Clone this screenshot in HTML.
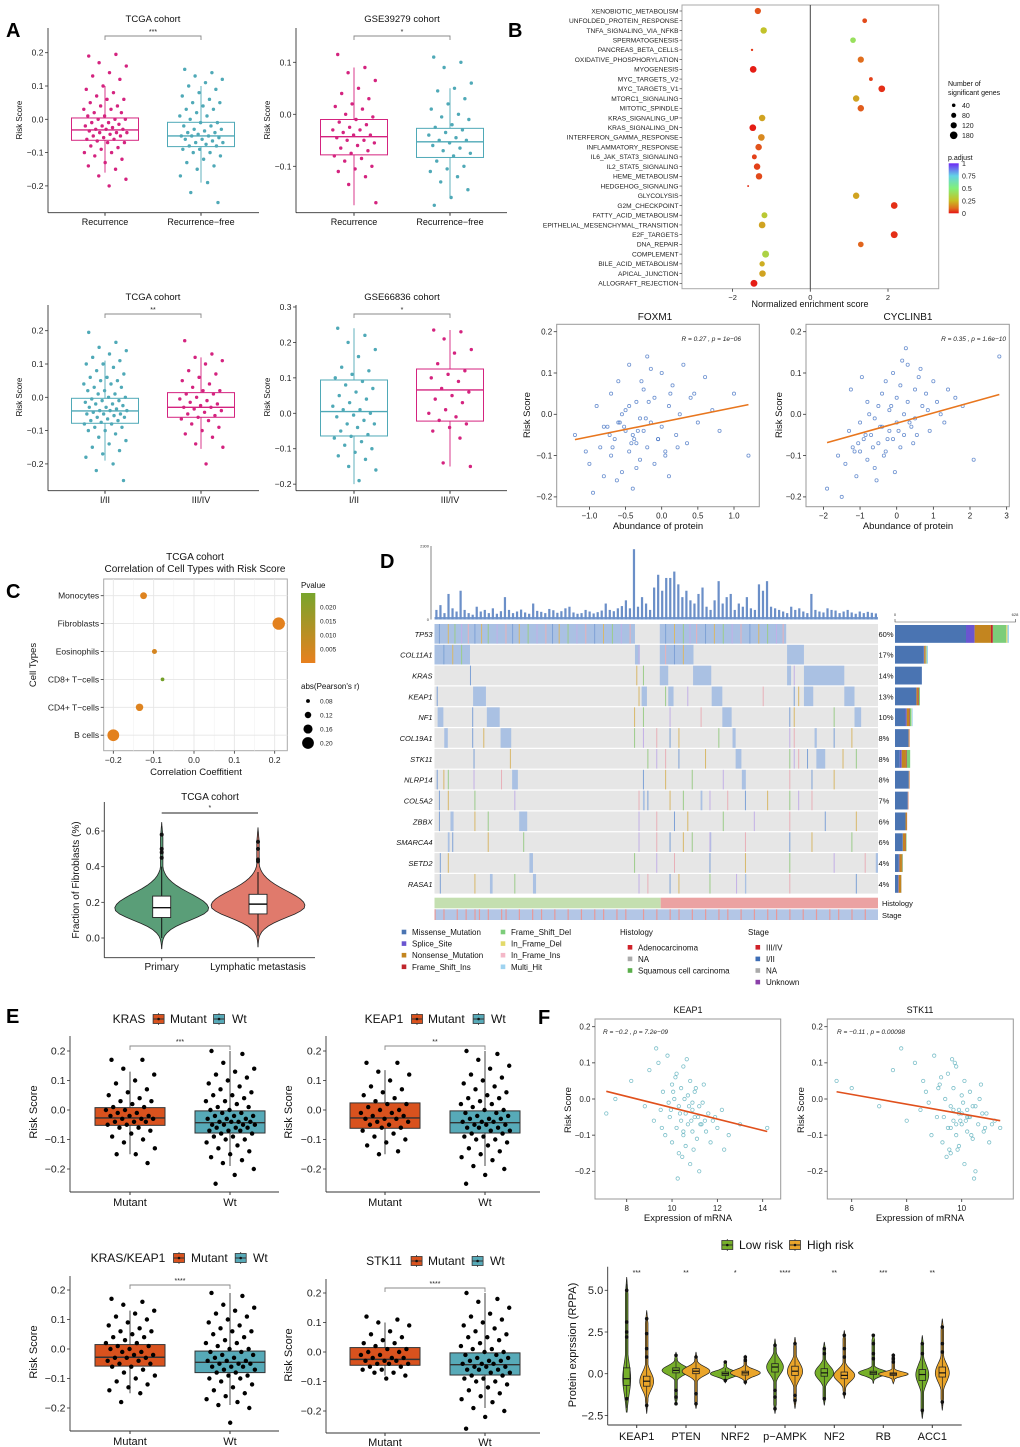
<!DOCTYPE html>
<html><head><meta charset="utf-8"><title>Multi-panel figure</title>
<style>
body{margin:0;background:#fff;}
svg{display:block;font-family:"Liberation Sans",Arial,sans-serif;}
.pl{font-size:20px;font-weight:bold;fill:#000;}
</style></head>
<body>
<svg id="fig" width="1020" height="1447" viewBox="0 0 1020 1447">
<rect width="1020" height="1447" fill="#fff"/>
<text class="pl" x="6" y="37">A</text>
<text class="pl" x="508" y="37">B</text>
<text class="pl" x="6" y="598">C</text>
<text class="pl" x="380" y="568">D</text>
<text class="pl" x="6" y="1023">E</text>
<text class="pl" x="538" y="1024">F</text>

<g font-size="9.5" text-anchor="middle" fill="#111">
<text x="153" y="22">TCGA cohort</text>
<text x="402" y="22">GSE39279 cohort</text>
<text x="153" y="300">TCGA cohort</text>
<text x="402" y="300">GSE66836 cohort</text>
</g>
<g font-size="8" text-anchor="middle" fill="#111">
<text transform="translate(22,120) rotate(-90)">Risk Score</text>
<text transform="translate(270,120) rotate(-90)">Risk Score</text>
<text transform="translate(22,397) rotate(-90)">Risk Score</text>
<text transform="translate(270,397) rotate(-90)">Risk Score</text>
</g>

<text x="810" y="307" font-size="9" text-anchor="middle" fill="#111">Normalized enrichment score</text>
<g font-size="7" fill="#111">
<text x="948" y="86">Number of</text>
<text x="948" y="95">significant genes</text>
<text x="948" y="160">p.adjust</text>
</g>
<text x="655" y="320" font-size="10" text-anchor="middle" fill="#111">FOXM1</text>
<text x="908" y="320" font-size="10" text-anchor="middle" fill="#111">CYCLINB1</text>
<text x="741" y="341" font-size="6.5" text-anchor="end" fill="#222" font-style="italic">R = 0.27 , p = 1e−06</text>
<text x="1006" y="341" font-size="6.5" text-anchor="end" fill="#222" font-style="italic">R = 0.35 , p = 1.6e−10</text>
<text x="658" y="529" font-size="9.5" text-anchor="middle" fill="#111">Abundance of protein</text>
<text x="908" y="529" font-size="9.5" text-anchor="middle" fill="#111">Abundance of protein</text>
<text transform="translate(530,415) rotate(-90)" font-size="9.5" text-anchor="middle" fill="#111">Risk Score</text>
<text transform="translate(782,415) rotate(-90)" font-size="9.5" text-anchor="middle" fill="#111">Risk Score</text>

<text x="195" y="560" font-size="10" text-anchor="middle" fill="#111">TCGA cohort</text>
<text x="195" y="572" font-size="10" text-anchor="middle" fill="#111">Correlation of Cell Types with Risk Score</text>
<text x="196" y="775" font-size="9.5" text-anchor="middle" fill="#111">Correlation Coeffitient</text>
<text transform="translate(36,665) rotate(-90)" font-size="9.5" text-anchor="middle" fill="#111">Cell Types</text>
<text x="301" y="588" font-size="8" fill="#111">Pvalue</text>
<text x="301" y="689" font-size="8" fill="#111">abs(Pearson's r)</text>
<text x="210" y="800" font-size="10" text-anchor="middle" fill="#111">TCGA cohort</text>
<text transform="translate(79,880) rotate(-90)" font-size="10" text-anchor="middle" fill="#111">Fraction of Fibroblasts (%)</text>

<g font-size="8" fill="#111">
<text x="620" y="935">Histology</text>
<text x="748" y="935">Stage</text>
<text x="882" y="906" font-size="7.5">Histology</text>
<text x="882" y="918" font-size="7.5">Stage</text>
</g>

<g font-size="12" fill="#111">
<text x="129" y="1023" text-anchor="middle">KRAS</text>
<text x="170" y="1023">Mutant</text>
<text x="232" y="1023">Wt</text>
<text x="384" y="1023" text-anchor="middle">KEAP1</text>
<text x="428" y="1023">Mutant</text>
<text x="491" y="1023">Wt</text>
<text x="128" y="1262" text-anchor="middle">KRAS/KEAP1</text>
<text x="191" y="1262">Mutant</text>
<text x="253" y="1262">Wt</text>
<text x="384" y="1265" text-anchor="middle">STK11</text>
<text x="428" y="1265">Mutant</text>
<text x="490" y="1265">Wt</text>
</g>
<g font-size="11" text-anchor="middle" fill="#111">
<text transform="translate(37,1112) rotate(-90)">Risk Score</text>
<text transform="translate(292,1112) rotate(-90)">Risk Score</text>
<text transform="translate(37,1352) rotate(-90)">Risk Score</text>
<text transform="translate(292,1355) rotate(-90)">Risk Score</text>
</g>

<text x="688" y="1013" font-size="9" text-anchor="middle" fill="#111">KEAP1</text>
<text x="920" y="1013" font-size="9" text-anchor="middle" fill="#111">STK11</text>
<text x="603" y="1034" font-size="6.5" fill="#222" font-style="italic">R = −0.2 , p = 7.2e−09</text>
<text x="837" y="1034" font-size="6.5" fill="#222" font-style="italic">R = −0.11 , p = 0.00098</text>
<text x="688" y="1221" font-size="9.5" text-anchor="middle" fill="#111">Expression of mRNA</text>
<text x="920" y="1221" font-size="9.5" text-anchor="middle" fill="#111">Expression of mRNA</text>
<text transform="translate(571,1110) rotate(-90)" font-size="9.5" text-anchor="middle" fill="#111">Risk Score</text>
<text transform="translate(804,1110) rotate(-90)" font-size="9.5" text-anchor="middle" fill="#111">Risk Score</text>
<text x="739" y="1249" font-size="12" fill="#111">Low risk</text>
<text x="807" y="1249" font-size="12" fill="#111">High risk</text>
<text transform="translate(576,1345) rotate(-90)" font-size="11" text-anchor="middle" fill="#111">Protein exprssion (RPPA)</text>
</svg>

<script>
// ================= DATA =================
const a1Rec=[0.19,0.195,0.17,0.16,0.14,0.13,0.12,0.1,0.09,0.08,0.07,0.06,0.06,0.05,0.04,0.04,0.03,0.03,0.02,0.02,0.01,0.01,0.0,0.0,0.0,-0.01,-0.01,-0.015,-0.02,-0.02,-0.025,-0.03,-0.03,-0.03,-0.035,-0.04,-0.04,-0.04,-0.045,-0.05,-0.05,-0.055,-0.06,-0.06,-0.065,-0.07,-0.07,-0.08,-0.085,-0.09,-0.1,-0.1,-0.11,-0.12,-0.13,-0.14,-0.15,-0.17,-0.18,-0.2];
const a1Free=[0.15,0.14,0.13,0.12,0.11,0.1,0.09,0.08,0.07,0.06,0.05,0.05,0.04,0.03,0.03,0.02,0.01,0.01,0.0,-0.01,-0.01,-0.02,-0.02,-0.03,-0.03,-0.035,-0.04,-0.04,-0.045,-0.05,-0.05,-0.05,-0.055,-0.06,-0.06,-0.065,-0.07,-0.07,-0.075,-0.08,-0.08,-0.09,-0.09,-0.1,-0.1,-0.11,-0.12,-0.13,-0.14,-0.15,-0.17,-0.19,-0.22,-0.25];
const a2Rec=[0.115,0.09,0.08,0.065,0.05,0.04,0.03,0.02,0.015,0.01,0.0,-0.005,-0.01,-0.015,-0.02,-0.025,-0.03,-0.03,-0.035,-0.04,-0.04,-0.045,-0.05,-0.05,-0.055,-0.06,-0.065,-0.07,-0.075,-0.08,-0.085,-0.09,-0.1,-0.105,-0.11,-0.12,-0.135,-0.17];
const a2Free=[0.11,0.1,0.09,0.06,0.05,0.045,0.03,0.02,0.01,0.0,-0.005,-0.01,-0.02,-0.025,-0.03,-0.035,-0.04,-0.045,-0.05,-0.05,-0.055,-0.06,-0.065,-0.07,-0.075,-0.08,-0.09,-0.1,-0.105,-0.11,-0.12,-0.13,-0.145,-0.16,-0.175];
const a3Early=[0.195,0.165,0.15,0.14,0.13,0.12,0.11,0.1,0.1,0.09,0.08,0.07,0.06,0.06,0.05,0.05,0.04,0.04,0.03,0.03,0.02,0.02,0.01,0.01,0.0,0.0,-0.005,-0.01,-0.01,-0.015,-0.02,-0.02,-0.025,-0.03,-0.03,-0.035,-0.04,-0.04,-0.04,-0.045,-0.05,-0.05,-0.05,-0.055,-0.06,-0.06,-0.065,-0.07,-0.07,-0.075,-0.08,-0.08,-0.09,-0.09,-0.1,-0.1,-0.11,-0.12,-0.13,-0.14,-0.15,-0.16,-0.17,-0.18,-0.2,-0.22,-0.25];
const a3Late=[0.17,0.13,0.12,0.11,0.1,0.08,0.07,0.06,0.05,0.04,0.03,0.02,0.02,0.01,0.01,0.0,-0.005,-0.01,-0.015,-0.02,-0.025,-0.03,-0.03,-0.035,-0.04,-0.045,-0.05,-0.055,-0.06,-0.065,-0.07,-0.08,-0.09,-0.1,-0.11,-0.12,-0.14,-0.15,-0.2];
const a4Early=[0.24,0.22,0.2,0.18,0.16,0.13,0.12,0.11,0.1,0.09,0.08,0.07,0.06,0.05,0.04,0.03,0.02,0.01,0.01,0.0,-0.005,-0.01,-0.02,-0.03,-0.03,-0.04,-0.05,-0.06,-0.065,-0.07,-0.08,-0.09,-0.1,-0.11,-0.12,-0.13,-0.15,-0.16,-0.19];
const a4Late=[0.235,0.23,0.21,0.18,0.17,0.14,0.12,0.11,0.1,0.09,0.07,0.06,0.05,0.04,0.03,0.01,0.0,-0.01,-0.02,-0.03,-0.04,-0.05,-0.07,-0.14,-0.15];
const a1RecStats=[-0.16,-0.063,-0.032,0.004,0.1];
const a1FreeStats=[-0.19,-0.082,-0.05,-0.009,0.1];
const a2RecStats=[-0.175,-0.078,-0.043,-0.01,0.09];
const a2FreeStats=[-0.16,-0.083,-0.053,-0.027,0.05];
const a3EarlyStats=[-0.19,-0.078,-0.041,-0.003,0.11];
const a3LateStats=[-0.155,-0.06,-0.03,0.014,0.12];
const a4EarlyStats=[-0.2,-0.064,0.005,0.094,0.24];
const a4LateStats=[-0.15,-0.022,0.066,0.125,0.235];

const nesTerms=["XENOBIOTIC_METABOLISM","UNFOLDED_PROTEIN_RESPONSE","TNFA_SIGNALING_VIA_NFKB","SPERMATOGENESIS","PANCREAS_BETA_CELLS","OXIDATIVE_PHOSPHORYLATION","MYOGENESIS","MYC_TARGETS_V2","MYC_TARGETS_V1","MTORC1_SIGNALING","MITOTIC_SPINDLE","KRAS_SIGNALING_UP","KRAS_SIGNALING_DN","INTERFERON_GAMMA_RESPONSE","INFLAMMATORY_RESPONSE","IL6_JAK_STAT3_SIGNALING","IL2_STAT5_SIGNALING","HEME_METABOLISM","HEDGEHOG_SIGNALING","GLYCOLYSIS","G2M_CHECKPOINT","FATTY_ACID_METABOLISM","EPITHELIAL_MESENCHYMAL_TRANSITION","E2F_TARGETS","DNA_REPAIR","COMPLEMENT","BILE_ACID_METABOLISM","APICAL_JUNCTION","ALLOGRAFT_REJECTION"];
const nesValues=[-1.35,1.4,-1.2,1.1,-1.5,1.3,-1.47,1.56,1.84,1.18,1.3,-1.24,-1.48,-1.26,-1.33,-1.44,-1.37,-1.32,-1.6,1.18,2.16,-1.18,-1.24,2.16,1.3,-1.15,-1.24,-1.23,-1.45];
const nesCounts=[120,70,130,100,18,120,140,45,140,130,130,130,140,140,130,75,130,130,12,130,140,110,140,150,100,150,90,130,150];
const nesPadj=[0.07,0.06,0.27,0.42,0.04,0.1,0.01,0.05,0.03,0.2,0.08,0.2,0.01,0.15,0.07,0.05,0.05,0.06,0.03,0.2,0.03,0.3,0.2,0.03,0.09,0.35,0.22,0.2,0.01];
const nesTicks=[-2,0,2];
const sizeLegendCounts=[40,80,120,180];
const padjTicks=[1,0.75,0.5,0.25,0];

const foxX=[-1.2,-1.0,-0.9,-0.85,-0.8,-0.75,-0.7,-0.7,-0.65,-0.6,-0.6,-0.55,-0.5,-0.5,-0.45,-0.45,-0.4,-0.4,-0.35,-0.35,-0.3,-0.3,-0.25,-0.25,-0.2,-0.2,-0.15,-0.1,-0.1,-0.05,0,0,0.05,0.1,0.1,0.15,0.2,0.25,0.3,0.35,0.4,0.5,0.6,0.7,0.8,1.0,1.2,-0.95,-0.55,-0.35,-0.15,0.05,-0.45,-0.62,-0.28,0.22,-0.8,-0.05,0.45,-1.05,-0.72,-0.58,-0.42,-0.33,-0.18,-0.68,-0.52,-0.38,-0.22,0.12];
const foxY=[-0.05,-0.12,0.02,-0.08,-0.15,-0.03,0.05,-0.1,-0.06,0.08,-0.02,-0.14,-0.04,0.01,-0.09,0.12,-0.05,-0.18,0.03,-0.07,-0.01,-0.11,0.06,-0.04,-0.08,0.14,-0.02,-0.12,0.04,-0.06,0.1,-0.03,-0.09,0.02,-0.15,0.07,-0.05,0.0,0.12,-0.07,0.04,-0.02,0.09,0.01,-0.04,0.05,-0.1,-0.19,0.0,-0.13,0.11,-0.1,0.02,-0.16,0.08,-0.08,-0.03,-0.06,0.05,-0.09,-0.05,-0.02,-0.07,-0.04,0.03,-0.08,-0.03,-0.06,-0.01,0.05];
const cycX=[-1.9,-1.6,-1.4,-1.3,-1.2,-1.1,-1.0,-1.0,-0.9,-0.8,-0.8,-0.7,-0.6,-0.6,-0.5,-0.5,-0.4,-0.4,-0.3,-0.3,-0.2,-0.2,-0.1,-0.1,0,0,0.1,0.1,0.2,0.2,0.3,0.3,0.4,0.5,0.5,0.6,0.7,0.8,0.9,1.0,1.1,1.2,1.4,1.6,1.8,2.1,2.8,-1.5,-0.75,-0.35,0.15,0.45,-0.95,0.65,-0.05,1.3,-1.25,0.25,-0.55,0.85,-1.05,-0.85,-0.65,-0.45,-0.25,0.05,0.35,-1.15,-0.15,0.55];
const cycY=[-0.18,-0.1,-0.12,-0.04,-0.08,-0.15,-0.02,-0.09,-0.06,0.03,-0.11,-0.05,-0.01,-0.13,0.02,-0.07,0.05,-0.03,-0.09,0.08,-0.04,0.01,-0.06,0.1,-0.02,0.04,-0.08,0.07,0.0,-0.05,0.12,0.03,-0.03,0.06,-0.01,0.09,0.02,0.05,-0.04,0.08,0.03,0.0,0.06,0.04,0.02,-0.11,0.14,-0.2,0.0,-0.1,0.13,-0.07,0.09,0.11,-0.14,-0.02,0.06,0.16,-0.16,0.01,-0.07,-0.05,-0.08,-0.03,-0.06,-0.04,-0.02,-0.09,0.02,-0.05];
const foxFit=[-0.019,0.0353];
const cycFit=[-0.0214,0.0248];
const foxXTicks=[-1.0,-0.5,0.0,0.5,1.0];
const cycXTicks=[-2,-1,0,1,2,3];
const scatterYTicks=[-0.2,-0.1,0.0,0.1,0.2];

const cellTypes=["Monocytes","Fibroblasts","Eosinophils","CD8+ T−cells","CD4+ T−cells","B cells"];
const cellCorr=[-0.125,0.21,-0.098,-0.078,-0.135,-0.2];
const cellP=[0.002,0.001,0.004,0.024,0.002,0.001];
const corrTicks=[-0.2,-0.1,0.0,0.1,0.2];
const pvalTicks=[0.020,0.015,0.010,0.005];
const absRTicks=[0.08,0.12,0.16,0.20];
const violinGroups=["Primary","Lymphatic metastasis"];
const violinMin=[-0.06,-0.05];
const violinMax=[0.65,0.62];
const violinMode=[0.165,0.18];
const violinQ1=[0.115,0.135];
const violinMed=[0.17,0.19];
const violinQ3=[0.235,0.245];
const violinOutliers=[[0.58,0.5,0.48,0.45],[0.54,0.5,0.44,0.43]];
const fracTicks=[0.0,0.2,0.4,0.6];

const genes=["TP53","COL11A1","KRAS","KEAP1","NF1","COL19A1","STK11","NLRP14","COL5A2","ZBBX","SMARCA4","SETD2","RASA1"];
const genePct=[60,17,14,13,10,8,8,8,7,6,6,4,4];
const geneTypeCounts=[[370,45,85,10,70,6,8],[150,2,6,2,4,2,6],[140,0,0,0,0,0,0],[110,2,8,4,6,0,0],[55,6,12,4,8,2,5],[70,1,4,1,0,0,0],[25,10,22,4,18,0,0],[72,0,3,1,0,0,0],[66,1,2,1,0,0,0],[55,0,7,1,0,0,0],[40,1,14,2,3,0,0],[20,3,13,2,3,0,0],[16,3,13,1,1,0,0]];
const geneBlocks=[
 [[0,0.452],[0.508,0.793]],
 [[0,0.08],[0.452,0.463],[0.508,0.584],[0.795,0.833]],
 [[0.508,0.527],[0.583,0.624],[0.795,0.804],[0.833,0.924]],
 [[0.087,0.116],[0.467,0.479],[0.527,0.539],[0.625,0.649],[0.833,0.854],[0.924,0.947]],
 [[0.007,0.02],[0.118,0.147],[0.649,0.67],[0.947,0.962]],
 [[0.022,0.03],[0.149,0.173],[0.672,0.679],[0.857,0.862]],
 [[0.679,0.692],[0.861,0.881]],
 [[0.175,0.188],[0.693,0.702]],
 [[0.47,0.474],[0.6,0.604]],
 [[0.036,0.043],[0.191,0.209]],
 [[0.03,0.034],[0.62,0.624]],
 [[0.214,0.222],[0.995,1.0]],
 [[0.125,0.131],[0.222,0.229],[0.7,0.703]]
];
const geneLines=[
 [0.01,0.03,0.045,0.06,0.075,0.09,0.105,0.12,0.14,0.16,0.175,0.19,0.21,0.23,0.25,0.265,0.28,0.3,0.32,0.34,0.36,0.38,0.4,0.42,0.44,0.52,0.54,0.56,0.575,0.59,0.61,0.63,0.65,0.67,0.69,0.71,0.73,0.75,0.77,0.785],
 [0.02,0.04,0.06,0.46,0.52,0.54,0.56],[0.08,0.455,0.47,0.81],[0.005,0.46,0.52,0.57,0.74,0.81,0.82],
 [0.085,0.45,0.47,0.53,0.6,0.8,0.81,0.9],[0.085,0.11,0.45,0.47,0.5,0.53,0.55,0.64,0.8,0.81,0.9,0.94],
 [0.088,0.17,0.48,0.5,0.52,0.55,0.61,0.8,0.81,0.82,0.84,0.92,0.95],[0.005,0.02,0.03,0.088,0.15,0.47,0.52,0.58,0.65,0.8,0.85,0.9],
 [0.01,0.03,0.09,0.18,0.46,0.48,0.53,0.56,0.62,0.66,0.7,0.75,0.8,0.82,0.85],[0.01,0.09,0.12,0.46,0.5,0.54,0.57,0.65,0.72,0.8,0.88,0.95],
 [0.04,0.12,0.2,0.46,0.5,0.53,0.56,0.58,0.62,0.7,0.8,0.85,0.94],[0.012,0.03,0.45,0.5,0.54,0.62,0.7,0.8,0.9,0.97],
 [0.012,0.09,0.18,0.46,0.48,0.53,0.55,0.62,0.68,0.8,0.95]
];
const tmb=[300,450,200,800,350,250,900,300,200,150,400,250,300,200,350,180,260,700,300,200,250,310,220,180,500,270,240,200,330,290,210,260,350,400,220,180,200,300,250,190,230,280,500,300,260,350,420,600,350,2200,400,700,500,300,1000,1400,900,1300,1300,1500,1100,700,900,600,500,800,1000,400,300,600,1200,500,700,800,300,500,400,700,350,300,1100,900,1200,400,350,300,250,200,400,300,350,250,200,800,300,250,220,350,300,280,200,250,300,220,180,250,200,240,210,190];
const histologySplit=0.51;
const stageRedPos=[0.0,0.02,0.05,0.07,0.09,0.1,0.12,0.15,0.16,0.19,0.22,0.24,0.27,0.3,0.33,0.36,0.38,0.41,0.43,0.47,0.5,0.53,0.55,0.58,0.61,0.64,0.66,0.69,0.72,0.75,0.77,0.8,0.83,0.86,0.89,0.91,0.94,0.97];
const mutTypes=["Missense_Mutation","Splice_Site","Nonsense_Mutation","Frame_Shift_Ins","Frame_Shift_Del","In_Frame_Del","In_Frame_Ins","Multi_Hit"];
const mutColors=["#4a74b2","#6a55d0","#c3851f","#c0262c","#7ccd7a","#e3da6a","#f4b8c8","#9fd3f0"];
const histLabels=["Adenocarcinoma","NA","Squamous cell carcinoma"];
const histColors=["#d0222a","#aaaaaa","#5aae4a"];
const stageLabels=["III/IV","I/II","NA","Unknown"];
const stageColors=["#d0222a","#3d6db5","#aaaaaa","#8a3fa8"];

const e1Mut=[0.17,0.17,0.14,0.12,0.1,0.09,0.07,0.06,0.05,0.04,0.03,0.03,0.02,0.01,0.01,0.0,0.0,-0.01,-0.01,-0.02,-0.02,-0.02,-0.03,-0.03,-0.03,-0.04,-0.04,-0.04,-0.05,-0.05,-0.06,-0.06,-0.07,-0.08,-0.09,-0.1,-0.11,-0.13,-0.15,-0.15,-0.18];
const e1Wt=[0.2,0.19,0.16,0.14,0.13,0.12,0.11,0.1,0.09,0.08,0.07,0.06,0.05,0.05,0.04,0.03,0.03,0.02,0.01,0.01,0.0,0.0,-0.01,-0.01,-0.02,-0.02,-0.02,-0.03,-0.03,-0.03,-0.04,-0.04,-0.04,-0.04,-0.05,-0.05,-0.05,-0.05,-0.06,-0.06,-0.06,-0.07,-0.07,-0.07,-0.08,-0.08,-0.09,-0.09,-0.1,-0.1,-0.11,-0.12,-0.13,-0.14,-0.15,-0.16,-0.17,-0.18,-0.2,-0.22,-0.25];
const e2Mut=[0.16,0.16,0.13,0.12,0.1,0.08,0.07,0.06,0.05,0.04,0.03,0.02,0.02,0.01,0.0,0.0,-0.01,-0.01,-0.02,-0.02,-0.03,-0.03,-0.03,-0.04,-0.04,-0.05,-0.05,-0.06,-0.06,-0.07,-0.08,-0.09,-0.1,-0.11,-0.12,-0.14,-0.15];
const e2Wt=[0.2,0.19,0.17,0.15,0.14,0.12,0.11,0.1,0.09,0.08,0.07,0.06,0.05,0.04,0.04,0.03,0.02,0.02,0.01,0.0,0.0,-0.01,-0.01,-0.02,-0.02,-0.03,-0.03,-0.03,-0.04,-0.04,-0.04,-0.05,-0.05,-0.05,-0.06,-0.06,-0.06,-0.07,-0.07,-0.08,-0.08,-0.09,-0.09,-0.1,-0.1,-0.11,-0.12,-0.13,-0.14,-0.15,-0.16,-0.17,-0.19,-0.2,-0.22,-0.25];
const e3Mut=[0.17,0.16,0.15,0.13,0.12,0.11,0.1,0.09,0.08,0.07,0.06,0.06,0.05,0.04,0.04,0.03,0.02,0.02,0.01,0.01,0.0,0.0,-0.01,-0.01,-0.02,-0.02,-0.03,-0.03,-0.03,-0.04,-0.04,-0.05,-0.05,-0.06,-0.06,-0.07,-0.08,-0.09,-0.1,-0.11,-0.12,-0.13,-0.14,-0.15,-0.18];
const e3Wt=[0.19,0.18,0.15,0.14,0.13,0.12,0.11,0.1,0.09,0.08,0.07,0.06,0.06,0.05,0.04,0.03,0.02,0.02,0.01,0.0,0.0,-0.01,-0.01,-0.02,-0.02,-0.03,-0.03,-0.04,-0.04,-0.04,-0.05,-0.05,-0.05,-0.06,-0.06,-0.06,-0.07,-0.07,-0.08,-0.08,-0.09,-0.09,-0.1,-0.1,-0.11,-0.12,-0.13,-0.14,-0.15,-0.16,-0.17,-0.18,-0.19,-0.2,-0.25];
const e4Mut=[0.12,0.11,0.1,0.09,0.07,0.06,0.05,0.04,0.03,0.03,0.02,0.01,0.01,0.0,0.0,-0.01,-0.01,-0.02,-0.02,-0.02,-0.03,-0.03,-0.03,-0.04,-0.04,-0.04,-0.05,-0.05,-0.06,-0.06,-0.07,-0.07,-0.08,-0.09];
const e4Wt=[0.2,0.18,0.17,0.15,0.13,0.12,0.11,0.1,0.09,0.08,0.07,0.06,0.05,0.05,0.04,0.03,0.02,0.01,0.01,0.0,0.0,-0.01,-0.01,-0.02,-0.02,-0.03,-0.03,-0.03,-0.04,-0.04,-0.04,-0.05,-0.05,-0.05,-0.06,-0.06,-0.06,-0.07,-0.07,-0.08,-0.08,-0.09,-0.09,-0.1,-0.1,-0.11,-0.12,-0.13,-0.14,-0.15,-0.16,-0.17,-0.19,-0.2,-0.22,-0.26];
const e1MutStats=[-0.15,-0.052,-0.027,0.008,0.13];
const e1WtStats=[-0.19,-0.078,-0.043,-0.003,0.2];
const e2MutStats=[-0.15,-0.062,-0.027,0.024,0.135];
const e2WtStats=[-0.19,-0.078,-0.043,-0.003,0.2];
const e3MutStats=[-0.15,-0.058,-0.028,0.015,0.13];
const e3WtStats=[-0.19,-0.08,-0.045,-0.007,0.19];
const e4MutStats=[-0.08,-0.045,-0.025,0.015,0.1];
const e4WtStats=[-0.19,-0.078,-0.043,-0.003,0.2];
const riskTicks=[-0.2,-0.1,0.0,0.1,0.2];

const fk1X=[7.1,7.5,8.2,8.8,9.0,9.2,9.4,9.5,9.6,9.7,9.8,9.9,10.0,10.0,10.1,10.2,10.2,10.3,10.3,10.4,10.4,10.5,10.5,10.6,10.6,10.7,10.7,10.8,10.8,10.9,10.9,11.0,11.0,11.1,11.2,11.2,11.3,11.4,11.5,11.6,11.7,11.8,12.0,12.2,12.5,13.0,14.2,9.3,9.85,10.15,10.45,10.65,10.95,11.35,11.9,10.25,10.55,9.55,11.05,12.3,10.85,10.35,10.75,11.15,9.95,10.05,11.45,10.5,10.9,11.25];
const fk1Y=[-0.04,0.0,0.05,-0.02,0.08,-0.06,0.1,-0.03,0.02,-0.1,0.12,-0.05,0.04,-0.12,0.0,-0.08,0.07,-0.02,-0.15,0.03,-0.06,-0.1,0.09,-0.04,-0.13,0.01,-0.07,-0.18,0.05,-0.03,-0.09,-0.05,0.02,-0.11,-0.02,-0.2,-0.07,0.04,-0.09,-0.04,-0.12,-0.06,-0.08,-0.03,-0.1,-0.07,-0.08,0.14,-0.01,0.06,-0.16,0.11,-0.14,-0.01,-0.05,-0.22,0.0,-0.08,0.03,-0.14,-0.06,-0.04,-0.02,-0.05,-0.03,0.02,-0.06,-0.09,-0.01,-0.07];
const fk2X=[5.45,6.0,7.0,7.5,8.0,8.3,8.5,8.7,8.9,9.0,9.1,9.2,9.3,9.4,9.5,9.5,9.6,9.6,9.7,9.7,9.8,9.8,9.9,9.9,10.0,10.0,10.1,10.1,10.2,10.2,10.3,10.3,10.4,10.5,10.5,10.6,10.7,10.8,10.9,11.0,11.2,11.4,7.8,8.8,9.25,9.45,9.65,9.85,10.05,10.25,10.45,10.65,10.85,9.15,9.55,9.95,10.35,10.75,8.6,11.1,9.75,9.35,9.9,10.15,10.4,9.6,10.0,9.8,10.2,9.7];
const fk2Y=[0.05,0.03,-0.02,0.08,-0.06,0.1,-0.03,0.02,-0.1,0.12,-0.05,0.04,-0.12,0.0,-0.08,0.07,-0.02,-0.15,0.03,-0.06,-0.1,0.09,-0.04,-0.13,0.01,-0.07,-0.18,0.05,-0.03,-0.09,-0.05,0.02,-0.11,-0.02,-0.2,-0.07,0.04,-0.09,-0.04,-0.12,-0.06,-0.08,0.14,-0.01,0.06,-0.16,0.11,-0.14,-0.01,-0.05,-0.22,0.0,-0.08,0.03,-0.14,-0.06,-0.1,-0.04,0.05,-0.07,0.1,-0.05,-0.03,-0.06,-0.02,-0.08,-0.04,-0.07,-0.05,-0.03];
const fk1Fit=[0.1324,-0.01566];
const fk2Fit=[0.0933,-0.01344];
const fk1XTicks=[8,10,12,14];
const fk2XTicks=[6,8,10];

const rppaProteins=["KEAP1","PTEN","NRF2","p−AMPK","NF2","RB","ACC1"];
const rppaStars=["***","**","*","****","**","***","**"];
const lowMin=[-2.3,-1.9,-0.55,-2.4,-1.9,-0.6,-2.7];
const lowQ1=[-0.7,0.05,-0.1,0.1,-0.15,-0.05,-0.4];
const lowMed=[-0.3,0.2,0.0,0.4,0.05,0.05,-0.05];
const lowQ3=[0.35,0.35,0.1,0.6,0.3,0.15,0.25];
const lowMax=[5.8,1.3,0.75,2.1,1.9,2.4,2.3];
const highMin=[-2.4,-2.1,-0.65,-2.1,-1.5,-0.6,-2.2];
const highQ1=[-0.75,0.0,-0.08,-0.1,-0.3,-0.1,-0.2];
const highMed=[-0.45,0.15,0.05,0.15,-0.1,-0.02,0.05];
const highQ3=[-0.15,0.3,0.15,0.45,0.1,0.05,0.4];
const highMax=[3.8,1.3,1.1,2.2,2.6,1.2,3.3];
const lowOut=[[5.0,3.1,2.5,2.2,-1.5],[1.1,-1.0,-1.4,-1.8],[0.7,-0.4],[1.7,-1.0,-1.4,-2.1],[1.5,1.2,-1.5],[2.3,1.8,1.2,0.9],[1.8,1.2,-2.2]];
const highOut=[[3.3,2.4,1.5,1.0,-1.9],[1.0,-1.2,-1.8],[1.0,0.8,-0.5],[1.8,-1.3,-1.6],[2.3,1.5,1.0,-1.2],[1.1,0.9,0.7],[2.8,1.8,1.3,-1.7]];
const rppaTicks=[-2.5,0.0,2.5,5.0];

// ================= HELPERS =================
const NS='http://www.w3.org/2000/svg';
const fig=document.getElementById('fig');
function mk(tag,attrs,parent){const e=document.createElementNS(NS,tag);for(const k in attrs)e.setAttribute(k,attrs[k]);(parent||fig).appendChild(e);return e;}
function lin(v0,p0,v1,p1){return v=>p0+(v-v0)*(p1-p0)/(v1-v0);}
function jit(i,w){return (((i*0.618034+0.13)%1)-0.5)*w;}
function fmt(v,d){const s=v.toFixed(d);return v<0?'−'+s.slice(1):s;}
function grp(name){const g=mk('g',{});return g;}

function yAxis(parent,x,yTop,yBot,ys,ticks,labels,fs,frame){
  if(!frame) mk('line',{x1:x,y1:yTop,x2:x,y2:yBot,stroke:'#333','stroke-width':0.9},parent);
  ticks.forEach((t,i)=>{const y=ys(t);
    mk('line',{x1:x-3,y1:y,x2:x,y2:y,stroke:'#333','stroke-width':0.8},parent);
    const tx=mk('text',{x:x-4.5,y:y+fs*0.35,'font-size':fs,'text-anchor':'end',fill:'#222'},parent);
    tx.textContent=labels[i];
    
    
  });
}
function xAxis(parent,y,x0,x1,xs,ticks,labels,fs,frame){
  if(!frame) mk('line',{x1:x0,y1:y,x2:x1,y2:y,stroke:'#333','stroke-width':0.9},parent);
  ticks.forEach((t,i)=>{const x=xs(t);
    mk('line',{x1:x,y1:y,x2:x,y2:y+3,stroke:'#333','stroke-width':0.8},parent);
    const tx=mk('text',{x:x,y:y+4+fs,'font-size':fs,'text-anchor':'middle',fill:'#222'},parent);
    tx.textContent=labels[i];
    
    
  });
}

function boxPanel(o){
  const g=grp(o.name);
  yAxis(g,o.ax,o.yTop,o.yBot,o.ys,o.ticks,o.ticks.map(t=>fmt(t,1)),o.fs);
  mk('line',{x1:o.ax,y1:o.yBot,x2:o.xEnd,y2:o.yBot,stroke:'#333','stroke-width':0.9},g);
  o.groups.forEach((gr)=>{
    const [lo,q1,md,q3,hi]=gr.st;
    mk('line',{x1:gr.cx,y1:o.yBot,x2:gr.cx,y2:o.yBot+3,stroke:'#333'},g);
    const lb=mk('text',{x:gr.cx,y:o.labelY,'font-size':o.lfs,'text-anchor':'middle',fill:'#111'},g);
    lb.textContent=gr.label;
    
    
    const wh=mk('line',{x1:gr.cx,y1:o.ys(lo),x2:gr.cx,y2:o.ys(hi),stroke:gr.stroke,'stroke-width':0.9},g);
    
    
    const bx=mk('rect',{x:gr.cx-o.bw/2,y:o.ys(q3),width:o.bw,height:o.ys(q1)-o.ys(q3),fill:gr.fill,stroke:gr.stroke,'stroke-width':1},g);
    
    
    const ml=mk('line',{x1:gr.cx-o.bw/2,y1:o.ys(md),x2:gr.cx+o.bw/2,y2:o.ys(md),stroke:gr.stroke,'stroke-width':1.4},g);
    
    
    gr.pts.forEach((v,i)=>{
      const c=mk('circle',{cx:gr.cx+jit(i,o.spread),cy:o.ys(v),r:o.pr,fill:gr.pc},g);
      
      
    });
  });
  const c1=o.groups[0].cx,c2=o.groups[1].cx;
  const br=mk('path',{d:`M${c1},${o.bracketY+4}V${o.bracketY}H${c2}V${o.bracketY+4}`,fill:'none',stroke:'#888','stroke-width':0.9},g);
  
  
  const st=mk('text',{x:(c1+c2)/2,y:o.bracketY-2,'font-size':7,'text-anchor':'middle',fill:'#222'},g);
  st.textContent=o.stars;
  
  
}

function scatterPanel(o){
  const g=grp(o.name);
  const fr=mk('rect',{x:o.x0,y:o.y0,width:o.x1-o.x0,height:o.y1-o.y0,fill:'none',stroke:'#999','stroke-width':1},g);
  
  
  yAxis(g,o.x0,o.y0,o.y1,o.ys,o.yt,o.yt.map(t=>fmt(t,1)),o.fs,true);
  xAxis(g,o.y1,o.x0,o.x1,o.xs,o.xt,o.xt.map(t=>o.xfmt(t)),o.fs,true);
  const n=Math.min(o.X.length,o.Y.length);
  for(let i=0;i<n;i++){
    const p=mk('circle',{cx:o.xs(o.X[i]),cy:o.ys(o.Y[i]),r:o.pr,fill:'none',stroke:o.col,'stroke-width':0.8,'stroke-opacity':0.8},g);
    
    
  }
  const xmin=Math.min(...o.X),xmax=Math.max(...o.X);
  const ln=mk('line',{x1:o.xs(xmin),y1:o.ys(o.fit[0]+o.fit[1]*xmin),x2:o.xs(xmax),y2:o.ys(o.fit[0]+o.fit[1]*xmax),stroke:o.lc,'stroke-width':1.6},g);
  
  
}

function violinPath(cx,ys,mn,mx,mode,sLo,sHi,w,floor){
  const N=40;let right=[],left=[];
  for(let k=0;k<=N;k++){
    const v=mn+(mx-mn)*k/N;
    const s=v<mode?sLo:sHi;
    let hw=w*Math.exp(-0.5*((v-mode)/s)**2);
    const edge=Math.min(k,N-k)/N;
    hw=Math.max(hw,floor*Math.min(1,edge*8));
    right.push([cx+hw,ys(v)]);left.push([cx-hw,ys(v)]);
  }
  const pts=right.concat(left.reverse());
  return 'M'+pts.map(p=>p[0].toFixed(1)+','+p[1].toFixed(1)).join('L')+'Z';
}

// ================= PANEL A =================
const pink='#d4237f',teal='#4fa9b7';
boxPanel({name:'a1-recurrence-tcga',ax:48,yTop:28,yBot:212.7,xEnd:259,ys:lin(0,119.3,0.2,52.7),ticks:[-0.2,-0.1,0,0.1,0.2],fs:8.5,bw:67,spread:44,pr:1.7,labelY:225,lfs:9,bracketY:36,stars:'***',
 groups:[{cx:105,st:a1RecStats,pts:a1Rec,fill:'#fff',stroke:pink,pc:pink,label:'Recurrence'},{cx:201,st:a1FreeStats,pts:a1Free,fill:'#fff',stroke:teal,pc:teal,label:'Recurrence−free'}]});
boxPanel({name:'a2-recurrence-gse39279',ax:296,yTop:28,yBot:212.7,xEnd:507,ys:lin(0,114.3,0.1,62.3),ticks:[-0.1,0,0.1],fs:8.5,bw:67,spread:44,pr:1.7,labelY:225,lfs:9,bracketY:36,stars:'*',
 groups:[{cx:354,st:a2RecStats,pts:a2Rec,fill:'#fff',stroke:pink,pc:pink,label:'Recurrence'},{cx:450,st:a2FreeStats,pts:a2Free,fill:'#fff',stroke:teal,pc:teal,label:'Recurrence−free'}]});
boxPanel({name:'a3-stage-tcga',ax:48,yTop:305,yBot:490.7,xEnd:259,ys:lin(0,397.3,0.2,330.7),ticks:[-0.2,-0.1,0,0.1,0.2],fs:8.5,bw:67,spread:44,pr:1.7,labelY:503,lfs:9,bracketY:314,stars:'**',
 groups:[{cx:105,st:a3EarlyStats,pts:a3Early,fill:'#fff',stroke:teal,pc:teal,label:'I/II'},{cx:201,st:a3LateStats,pts:a3Late,fill:'#fff',stroke:pink,pc:pink,label:'III/IV'}]});
boxPanel({name:'a4-stage-gse66836',ax:296,yTop:305,yBot:490.7,xEnd:507,ys:lin(0,413.3,0.3,307),ticks:[-0.2,-0.1,0,0.1,0.2,0.3],fs:8.5,bw:67,spread:44,pr:1.7,labelY:503,lfs:9,bracketY:314,stars:'*',
 groups:[{cx:354,st:a4EarlyStats,pts:a4Early,fill:'#fff',stroke:teal,pc:teal,label:'I/II'},{cx:450,st:a4LateStats,pts:a4Late,fill:'#fff',stroke:pink,pc:pink,label:'III/IV'}]});

// ================= PANEL B dotplot =================
(function(){
  const g=grp('gsea-dotplot');
  const x0=682,x1=938.7,y0=5,y1=288.7;
  const xs=lin(0,810.3,2,888);
  const rowY=i=>11+i*(283.3-11)/(nesTerms.length-1);
  const rad=n=>3.8*Math.sqrt(n/180);
  const stops=[[0,[230,20,20]],[0.1,[224,110,30]],[0.25,[200,190,35]],[0.5,[130,240,120]],[0.75,[100,210,230]],[1,[110,40,245]]];
  function pcol(p){for(let k=1;k<stops.length;k++){if(p<=stops[k][0]){const a=stops[k-1],b=stops[k];const t=(p-a[0])/(b[0]-a[0]);const c=a[1].map((v,j)=>Math.round(v+(b[1][j]-v)*t));return `rgb(${c[0]},${c[1]},${c[2]})`;}}return 'rgb(110,40,245)';}
  const fr=mk('rect',{x:x0,y:y0,width:x1-x0,height:y1-y0,fill:'#fff',stroke:'#aaa','stroke-width':1},g);
  
  
  const zl=mk('line',{x1:xs(0),y1:y0,x2:xs(0),y2:y1,stroke:'#444','stroke-width':1},g);
  
  
  nesTerms.forEach((t,i)=>{
    const y=rowY(i);
    mk('line',{x1:x0-2.5,y1:y,x2:x0,y2:y,stroke:'#333','stroke-width':0.6},g);
    const tx=mk('text',{x:x0-3.5,y:y+2.3,'font-size':6.6,'text-anchor':'end',fill:'#222'},g);
    tx.textContent=t;
    
    
    const c=mk('circle',{cx:xs(nesValues[i]),cy:y,r:rad(nesCounts[i]),fill:pcol(nesPadj[i])},g);
    
    
  });
  xAxis(g,y1,x0,x1,xs,nesTicks,nesTicks.map(t=>fmt(t,0)),7.5,true);
  sizeLegendCounts.forEach((n,i)=>{
    const y=105.3+i*10;
    const c=mk('circle',{cx:953.7,cy:y,r:rad(n),fill:'#000'},g);
    
    
    const tx=mk('text',{x:962,y:y+2.5,'font-size':7,fill:'#222'},g);
    tx.textContent=String(n);
    
    
  });
  const defs=mk('defs',{},g);
  const lg=mk('linearGradient',{id:'padjGrad',x1:0,y1:1,x2:0,y2:0},defs);
  stops.forEach(s=>mk('stop',{offset:s[0],'stop-color':`rgb(${s[1].join(',')})`},lg));
  const cb=mk('rect',{x:948.7,y:163.3,width:10,height:50,fill:'url(#padjGrad)'},g);
  
  
  const cbs=lin(0,213.3,1,163.3);
  padjTicks.forEach(t=>{
    const tx=mk('text',{x:962,y:cbs(t)+2.5,'font-size':7,fill:'#222'},g);
    tx.textContent=String(t);
    
    
  });
})();

scatterPanel({name:'foxm1-scatter',x0:556.7,x1:759.3,y0:324.3,y1:506.7,xs:lin(0,661.7,1,734),ys:lin(0,414.3,0.2,331.7),xt:foxXTicks,yt:scatterYTicks,xfmt:t=>fmt(t,1),fs:8,X:foxX,Y:foxY,fit:foxFit,col:'#4b78c6',lc:'#e8761e',pr:1.6});
scatterPanel({name:'cyclinb1-scatter',x0:806,x1:1009.3,y0:324.3,y1:506.7,xs:lin(0,896.7,2,970),ys:lin(0,414.3,0.2,331.7),xt:cycXTicks,yt:scatterYTicks,xfmt:t=>fmt(t,0),fs:8,X:cycX,Y:cycY,fit:cycFit,col:'#4b78c6',lc:'#e8761e',pr:1.6});

// ================= PANEL C dotplot =================
(function(){
  const g=grp('cell-type-correlation-plot');
  const x0=103.7,x1=287.3,y0=579,y1=750.7;
  const xs=lin(0,194,0.2,274.7);
  const rowY=i=>595.7+i*27.9;
  mk('rect',{x:x0,y:y0,width:x1-x0,height:y1-y0,fill:'#fff',stroke:'#aaa','stroke-width':1},g);
  [-0.15,-0.05,0.05,0.15].forEach(t=>mk('line',{x1:xs(t),y1:y0,x2:xs(t),y2:y1,stroke:'#f2f2f2','stroke-width':0.6},g));
  corrTicks.forEach(t=>mk('line',{x1:xs(t),y1:y0,x2:xs(t),y2:y1,stroke:'#e6e6e6','stroke-width':0.9},g));
  cellTypes.forEach((c,i)=>mk('line',{x1:x0,y1:rowY(i),x2:x1,y2:rowY(i),stroke:'#e6e6e6','stroke-width':0.9},g));
  const pc=p=>{const t=Math.min(1,p/0.025);const a=[232,128,30],b=[110,160,40];const c=a.map((v,j)=>Math.round(v+(b[j]-v)*t));return `rgb(${c.join(',')})`;};
  const rr=a=>1.6+(a-0.07)/(0.21-0.07)*4.6;
  yAxis(g,x0,y0,y1,i=>rowY(i),cellTypes.map((c,i)=>i),cellTypes,8.5,true);
  xAxis(g,y1,x0,x1,xs,corrTicks,corrTicks.map(t=>fmt(t,1)),8.5,true);
  cellTypes.forEach((c,i)=>{
    const d=mk('circle',{cx:xs(cellCorr[i]),cy:rowY(i),r:rr(Math.abs(cellCorr[i])),fill:pc(cellP[i])},g);
    
    
  });
  const defs=mk('defs',{},g);
  const lg=mk('linearGradient',{id:'pvGrad',x1:0,y1:1,x2:0,y2:0},defs);
  mk('stop',{offset:0,'stop-color':'#e8801e'},lg);mk('stop',{offset:1,'stop-color':'#78a52c'},lg);
  const cb=mk('rect',{x:301,y:593,width:14.3,height:70,fill:'url(#pvGrad)'},g);
  
  
  const ps=lin(0.0,663,0.025,593);
  pvalTicks.forEach(t=>{const tx=mk('text',{x:320,y:ps(t)+2.5,'font-size':6.5,fill:'#222'},g);tx.textContent=t.toFixed(3);
    
    });
  absRTicks.forEach((a,i)=>{const y=701+i*14;
    const d=mk('circle',{cx:308,cy:y,r:rr(a),fill:'#000'},g);
    
    
    const tx=mk('text',{x:320,y:y+2.5,'font-size':6.5,fill:'#222'},g);tx.textContent=a.toFixed(2);
    
    });
})();

// ================= PANEL C violin =================
(function(){
  const g=grp('fibroblast-violin-plot');
  const ys=lin(0,938,0.6,831);
  const cxs=[161.7,258];const cols=['#5a9e78','#e07a6c'];
  yAxis(g,104.3,802,957.7,ys,fracTicks,fracTicks.map(t=>fmt(t,1)),10);
  mk('line',{x1:104.3,y1:957.7,x2:315,y2:957.7,stroke:'#333','stroke-width':0.9},g);
  violinGroups.forEach((nm,i)=>{
    const cx=cxs[i];
    mk('line',{x1:cx,y1:957.7,x2:cx,y2:960.7,stroke:'#333'},g);
    const lb=mk('text',{x:cx,y:970,'font-size':10,'text-anchor':'middle',fill:'#111'},g);lb.textContent=nm;
    
    
    const v=mk('path',{d:violinPath(cx,ys,violinMin[i],violinMax[i],violinMode[i],0.065,0.085,47,1.2),fill:cols[i],stroke:'#222','stroke-width':0.8},g);
    
    
    mk('line',{x1:cx,y1:ys(violinMin[i]+0.06),x2:cx,y2:ys(violinMax[i]-0.25),stroke:'#111','stroke-width':1},g);
    const b=mk('rect',{x:cx-9,y:ys(violinQ3[i]),width:18,height:ys(violinQ1[i])-ys(violinQ3[i]),fill:'#fff',stroke:'#222','stroke-width':0.9},g);
    
    
    mk('line',{x1:cx-9,y1:ys(violinMed[i]),x2:cx+9,y2:ys(violinMed[i]),stroke:'#111','stroke-width':1.4},g);
    violinOutliers[i].forEach(o=>{const d=mk('circle',{cx:cx,cy:ys(o),r:2,fill:'#111'},g);
      
      });
  });
  mk('line',{x1:cxs[0],y1:813,x2:cxs[1],y2:813,stroke:'#222','stroke-width':0.9},g);
  const st=mk('text',{x:(cxs[0]+cxs[1])/2,y:810,'font-size':7,'text-anchor':'middle',fill:'#222'},g);st.textContent='*';
  
  
})();

// ================= PANEL D oncoplot =================
(function(){
  const g=grp('oncoplot');
  const mx0=434.5,mx1=878,mw=mx1-mx0;
  const rowTop=624,rowH=20.83;
  const ts=lin(0,619.5,2300,546);
  const bw=mw/tmb.length;
  mk('line',{x1:431,y1:546,x2:431,y2:619.5,stroke:'#333','stroke-width':0.6},g);
  [[0,'0'],[2300,'2300']].forEach(([v,l])=>{const t=mk('text',{x:429,y:ts(v)+1.5,'font-size':4,'text-anchor':'end',fill:'#333'},g);t.textContent=l;
    
    });
  mk('rect',{x:mx0,y:617,width:mw,height:2.5,fill:'#7d9fd0'},g);
  tmb.forEach((v,i)=>{
    const r=mk('rect',{x:mx0+i*bw+bw*0.2,y:ts(v),width:bw*0.55,height:619.5-ts(v),fill:'#6b8fc8'},g);
    
    
  });
  genes.forEach((gn,i)=>{
    const y=rowTop+i*rowH;
    const bg=mk('rect',{x:mx0,y:y,width:mw,height:rowH-1.2,fill:'#e6e6e6'},g);
    
    
    geneBlocks[i].forEach(([a,b])=>{
      const r=mk('rect',{x:mx0+a*mw,y:y,width:Math.max((b-a)*mw,1),height:rowH-1.2,fill:'#aac1e3'},g);
      
      
    });
    geneLines[i].forEach((p,k)=>{
      const col=['#7fa2d6','#d8b86a','#9ccc8a','#c3b0e6','#e8b0b8'][k%5];
      const l=mk('rect',{x:mx0+p*mw,y:y,width:1,height:rowH-1.2,fill:col},g);
      
      
    });
    const nm=mk('text',{x:432.5,y:y+rowH/2+2.5,'font-size':7.5,'font-style':'italic','text-anchor':'end',fill:'#111'},g);
    nm.textContent=gn;
    
    
    const pc=mk('text',{x:878.5,y:y+rowH/2+2.5,'font-size':7.5,fill:'#111'},g);
    pc.textContent=genePct[i]+'%';
    
    
    const bs=120.5/628;let x=895;
    geneTypeCounts[i].forEach((n,k)=>{
      const colIdx=k<6?k:7;
      const r=mk('rect',{x:x,y:y+1,width:n*bs,height:rowH-3,fill:mutColors[colIdx]},g);
      
      
      x+=n*bs;
    });
  });
  mk('path',{d:'M895,619V622H1015.5V619',fill:'none',stroke:'#444','stroke-width':0.6},g);
  [[895,'0'],[1015,'628']].forEach(([x,l])=>{const t=mk('text',{x:x,y:616,'font-size':4,'text-anchor':'middle',fill:'#333'},g);t.textContent=l;
    
    });
  const h1=mk('rect',{x:mx0,y:897.7,width:mw*histologySplit,height:10.6,fill:'#c4dfb0'},g);
  
  
  const h2=mk('rect',{x:mx0+mw*histologySplit,y:897.7,width:mw*(1-histologySplit),height:10.6,fill:'#eba2a2'},g);
  
  
  const s0=mk('rect',{x:mx0,y:909.3,width:mw,height:10.7,fill:'#b3c6e6'},g);
  
  
  stageRedPos.forEach(p=>{const l=mk('rect',{x:mx0+p*mw,y:909.3,width:1.2,height:10.7,fill:'#e79a9a'},g);
    
    });
  mutTypes.forEach((t,i)=>{
    const col=i<4?0:1,row=i%4;
    const x=col?503:404,y=932+row*11.6;
    const sq=mk('rect',{x:x-2.3,y:y-2.3,width:4.6,height:4.6,fill:mutColors[i]},g);
    
    
    const tx=mk('text',{x:x+8,y:y+3,'font-size':8,fill:'#111'},g);tx.textContent=t;
    
    
  });
  histLabels.forEach((t,i)=>{const y=947.3+i*11.6;
    const sq=mk('rect',{x:627.7,y:y-2.3,width:4.6,height:4.6,fill:histColors[i]},g);
    
    
    const tx=mk('text',{x:638,y:y+3,'font-size':8,fill:'#111'},g);tx.textContent=t;
    
    });
  stageLabels.forEach((t,i)=>{const y=947.3+i*11.6;
    const sq=mk('rect',{x:755.5,y:y-2.3,width:4.6,height:4.6,fill:stageColors[i]},g);
    
    
    const tx=mk('text',{x:766,y:y+3,'font-size':8,fill:'#111'},g);tx.textContent=t;
    
    });
})();

// ================= PANEL E =================
const orange='#d9521e',tealE='#57aab8';
function legendIcon(x,y,fill){
  const g=grp('legend-icon');
  mk('line',{x1:x,y1:y-6,x2:x,y2:y+6,stroke:'#333','stroke-width':0.8},g);
  mk('rect',{x:x-5.5,y:y-4.5,width:11,height:9,fill:fill,stroke:'#333','stroke-width':0.8},g);
  mk('line',{x1:x-5.5,y1:y,x2:x+5.5,y2:y,stroke:'#333','stroke-width':1},g);
  mk('circle',{cx:x,cy:y,r:1.3,fill:'#111'},g);
}
legendIcon(158.6,1019,orange);legendIcon(219,1019,tealE);
legendIcon(417,1019,orange);legendIcon(478.6,1019,tealE);
legendIcon(179,1258,orange);legendIcon(240.7,1258,tealE);
legendIcon(416.6,1261,orange);legendIcon(477.6,1261,tealE);
const eCommon={fs:10.5,bw:70,spread:50,pr:2.2,lfs:11};
boxPanel(Object.assign({},eCommon,{name:'e1-kras',ax:70,yTop:1036,yBot:1192,xEnd:279,ys:lin(0,1110,0.2,1051),ticks:riskTicks,labelY:1206,bracketY:1046,stars:'***',
 groups:[{cx:130,st:e1MutStats,pts:e1Mut,fill:orange,stroke:'#333',pc:'#000',label:'Mutant'},{cx:230,st:e1WtStats,pts:e1Wt,fill:tealE,stroke:'#333',pc:'#000',label:'Wt'}]}));
boxPanel(Object.assign({},eCommon,{name:'e2-keap1',ax:326,yTop:1036,yBot:1192,xEnd:540,ys:lin(0,1110,0.2,1051),ticks:riskTicks,labelY:1206,bracketY:1046,stars:'**',
 groups:[{cx:385,st:e2MutStats,pts:e2Mut,fill:orange,stroke:'#333',pc:'#000',label:'Mutant'},{cx:485,st:e2WtStats,pts:e2Wt,fill:tealE,stroke:'#333',pc:'#000',label:'Wt'}]}));
boxPanel(Object.assign({},eCommon,{name:'e3-kras-keap1',ax:70,yTop:1276,yBot:1431,xEnd:279,ys:lin(0,1349,0.2,1290),ticks:riskTicks,labelY:1445,bracketY:1285,stars:'****',
 groups:[{cx:130,st:e3MutStats,pts:e3Mut,fill:orange,stroke:'#333',pc:'#000',label:'Mutant'},{cx:230,st:e3WtStats,pts:e3Wt,fill:tealE,stroke:'#333',pc:'#000',label:'Wt'}]}));
boxPanel(Object.assign({},eCommon,{name:'e4-stk11',ax:326,yTop:1279,yBot:1433,xEnd:540,ys:lin(0,1352,0.2,1293),ticks:riskTicks,labelY:1446,bracketY:1288,stars:'****',
 groups:[{cx:385,st:e4MutStats,pts:e4Mut,fill:orange,stroke:'#333',pc:'#000',label:'Mutant'},{cx:485,st:e4WtStats,pts:e4Wt,fill:tealE,stroke:'#333',pc:'#000',label:'Wt'}]}));

// ================= PANEL F scatters =================
scatterPanel({name:'keap1-mrna-scatter',x0:595,x1:780.7,y0:1019,y1:1199,xs:lin(8,626.7,14,762.7),ys:lin(0,1099,0.2,1026.7),xt:fk1XTicks,yt:scatterYTicks,xfmt:t=>String(t),fs:8,X:fk1X,Y:fk1Y,fit:fk1Fit,col:'#5cb0bd',lc:'#e0501c',pr:1.7});
scatterPanel({name:'stk11-mrna-scatter',x0:827.3,x1:1013.3,y0:1019,y1:1199,xs:lin(6,851.7,10,961.7),ys:lin(0,1099,0.2,1026.7),xt:fk2XTicks,yt:scatterYTicks,xfmt:t=>String(t),fs:8,X:fk2X,Y:fk2Y,fit:fk2Fit,col:'#5cb0bd',lc:'#e0501c',pr:1.7});

// ================= PANEL F RPPA violins =================
(function(){
  const g=grp('rppa-violin-plot');
  const ys=lin(0,1373.7,5,1290.3);
  const cx=[636.7,686,735.3,785,834.3,883.3,932.3];
  const green='#77b02a',amber='#eaa52a';
  yAxis(g,607.7,1266.7,1425,ys,rppaTicks,rppaTicks.map(t=>fmt(t,1)),11);
  mk('line',{x1:607.7,y1:1425,x2:961.7,y2:1425,stroke:'#333','stroke-width':0.9},g);
  function one(c,mn,q1,md,q3,mx,outs,col){
    const iqr=q3-q1;const w=Math.min(15,4.2/iqr);
    const v=mk('path',{d:violinPath(c,ys,mn,mx,md,iqr*0.9,iqr*0.9,w,1.3),fill:col,stroke:'#222','stroke-width':0.7},g);
    
    
    mk('line',{x1:c,y1:ys(mn+0.25),x2:c,y2:ys(mx-0.4),stroke:'#222','stroke-width':0.7},g);
    const b=mk('rect',{x:c-3.3,y:ys(q3),width:6.6,height:Math.max(ys(q1)-ys(q3),1),fill:col,stroke:'#222','stroke-width':0.8},g);
    
    
    mk('line',{x1:c-3.3,y1:ys(md),x2:c+3.3,y2:ys(md),stroke:'#111','stroke-width':1.2},g);
    outs.forEach(o=>{const d=mk('circle',{cx:c,cy:ys(o),r:1.8,fill:'#111'},g);
      
      });
  }
  rppaProteins.forEach((p,i)=>{
    one(cx[i]-10,lowMin[i],lowQ1[i],lowMed[i],lowQ3[i],lowMax[i],lowOut[i],green);
    one(cx[i]+10,highMin[i],highQ1[i],highMed[i],highQ3[i],highMax[i],highOut[i],amber);
    mk('line',{x1:cx[i],y1:1425,x2:cx[i],y2:1428,stroke:'#333'},g);
    const lb=mk('text',{x:cx[i],y:1440,'font-size':11,'text-anchor':'middle',fill:'#111'},g);lb.textContent=p;
    
    
    const st=mk('text',{x:cx[i],y:1275,'font-size':7,'text-anchor':'middle',fill:'#222'},g);st.textContent=rppaStars[i];
    
    
  });
  legendIcon(727.3,1245,green);
  legendIcon(795,1245,amber);
})();
</script>
</body></html>
